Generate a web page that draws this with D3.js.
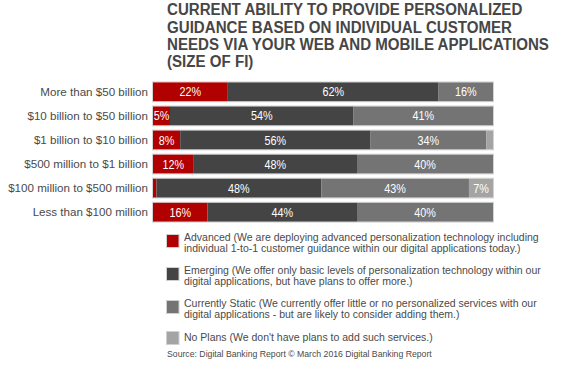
<!DOCTYPE html>
<html>
<head>
<meta charset="utf-8">
<script src="https://cdn.jsdelivr.net/npm/d3@7"></script>
<style>
  body { margin: 0; background: #fff; }
  text { font-family: "Liberation Sans", Arial, sans-serif; }
</style>
</head>
<body>
<svg id="chart" width="565" height="365"></svg>
<script>
var width = 565,
    height = 365;

var titleLines = [
  "CURRENT ABILITY TO PROVIDE PERSONALIZED",
  "GUIDANCE BASED ON INDIVIDUAL CUSTOMER",
  "NEEDS VIA YOUR WEB AND MOBILE APPLICATIONS",
  "(SIZE OF FI)"
];

var categories = [
  "More than $50 billion",
  "$10 billion to $50 billion",
  "$1 billion to $10 billion",
  "$500 million to $1 billion",
  "$100 million to $500 million",
  "Less than $100 million"
];

// percentages per group
var advanced = [22, 5, 8, 12, 1, 16];
var emerging = [62, 54, 56, 48, 48, 44];
var currentlyStatic = [16, 41, 34, 40, 43, 40];
var noPlans = [0, 0, 2, 0, 7, 0];

var seriesKeys = ["advanced", "emerging", "static", "noplans"];
var seriesColors = ["#b00000", "#444444", "#747474", "#a4a4a4"];
var legendLines = [
  ["Advanced (We are deploying advanced personalization technology including",
   "individual 1-to-1 customer guidance within our digital applications today.)"],
  ["Emerging (We offer only basic levels of personalization technology within our",
   "digital applications, but have plans to offer more.)"],
  ["Currently Static (We currently offer little or no personalized services with our",
   "digital applications - but are likely to consider adding them.)"],
  ["No Plans (We don't have plans to add such services.)"]
];
var source = "Source: Digital Banking Report \u00a9 March 2016 Digital Banking Report";

var rows = categories.map(function(c, i) {
  return { cat: c, advanced: advanced[i], emerging: emerging[i],
           static: currentlyStatic[i], noplans: noPlans[i] };
});

var svg = d3.select("#chart");

// title (condensed look: squeeze horizontally to the reference width)
var titleG = svg.append("g");
var title = titleG.append("text")
    .attr("fill", "#464646")
    .style("font-weight", "bold")
    .style("font-size", "16.8px");
title.selectAll("tspan")
    .data(titleLines)
  .enter().append("tspan")
    .attr("x", 0)
    .attr("y", function(d, i) { return 15.5 + i * 17.2; })
    .text(function(d) { return d; });
var firstLen = title.select("tspan").node().getComputedTextLength();
titleG.attr("transform", "translate(167,0) scale(" + (355 / firstLen) + ",1)");

var x = d3.scaleLinear().domain([0, 1]).range([153, 493]);
var y = d3.scaleBand().domain(categories).range([80, 224]).paddingInner(0.22).paddingOuter(0.1);
var color = d3.scaleOrdinal().domain(seriesKeys).range(seriesColors);

var stacked = d3.stack().keys(seriesKeys).offset(d3.stackOffsetExpand)(rows);

// bar outline
svg.append("g").selectAll("rect")
    .data(categories)
  .enter().append("rect")
    .attr("x", x(0) - 0.5)
    .attr("y", function(d) { return y(d) - 0.5; })
    .attr("width", x(1) - x(0) + 1)
    .attr("height", y.bandwidth() + 1)
    .attr("fill", "none")
    .attr("stroke", "#d4d4d4");

var layer = svg.append("g").selectAll("g")
    .data(stacked)
  .enter().append("g")
    .attr("fill", function(d) { return color(d.key); });

layer.selectAll("rect")
    .data(function(d) { return d; })
  .enter().append("rect")
    .attr("x", function(d) { return x(d[0]); })
    .attr("y", function(d) { return y(d.data.cat); })
    .attr("width", function(d) { return x(d[1]) - x(d[0]); })
    .attr("height", y.bandwidth());

// value labels
layer.selectAll("text")
    .data(function(d) { return d.map(function(p) { return { p: p, key: d.key }; }); })
  .enter().append("text")
    .filter(function(d) { return d.p.data[d.key] >= 5; })
    .attr("transform", function(d) {
      var cx = (x(d.p[0]) + x(d.p[1])) / 2,
          cy = y(d.p.data.cat) + y.bandwidth() / 2 + 4.6;
      return "translate(" + cx + "," + cy + ") scale(0.8,1)";
    })
    .attr("text-anchor", "middle")
    .attr("fill", "#fff")
    .style("font-size", "13.5px")
    .text(function(d) { return d.p.data[d.key] + "%"; });

// category labels
svg.append("g").selectAll("text")
    .data(categories)
  .enter().append("text")
    .attr("x", 148)
    .attr("y", function(d) { return y(d) + y.bandwidth() / 2 + 4; })
    .attr("text-anchor", "end")
    .attr("fill", "#4a4a4a")
    .style("font-size", "11.6px")
    .text(function(d) { return d; });

// legend
var legendY = [234, 267, 300, 331];
var legend = svg.append("g").selectAll("g")
    .data(legendLines)
  .enter().append("g")
    .attr("transform", function(d, i) { return "translate(166," + legendY[i] + ")"; });

legend.append("rect")
    .attr("x", 0.5)
    .attr("y", 0.5)
    .attr("width", 12.5)
    .attr("height", 13)
    .attr("fill", function(d, i) { return seriesColors[i]; })
    .attr("stroke", "#d0d0d0");

legend.append("text")
    .attr("fill", "#4a4a4a")
    .style("font-size", "10.5px")
  .selectAll("tspan")
    .data(function(d) { return d; })
  .enter().append("tspan")
    .attr("x", 18)
    .attr("y", function(d, i, n) { return (n.length === 1 ? 10 : 6.5) + i * 11.7; })
    .text(function(d) { return d; });

svg.append("text")
    .attr("x", 167)
    .attr("y", 357)
    .attr("fill", "#4a4a4a")
    .style("font-size", "8.7px")
    .text(source);
</script>
</body>
</html>
